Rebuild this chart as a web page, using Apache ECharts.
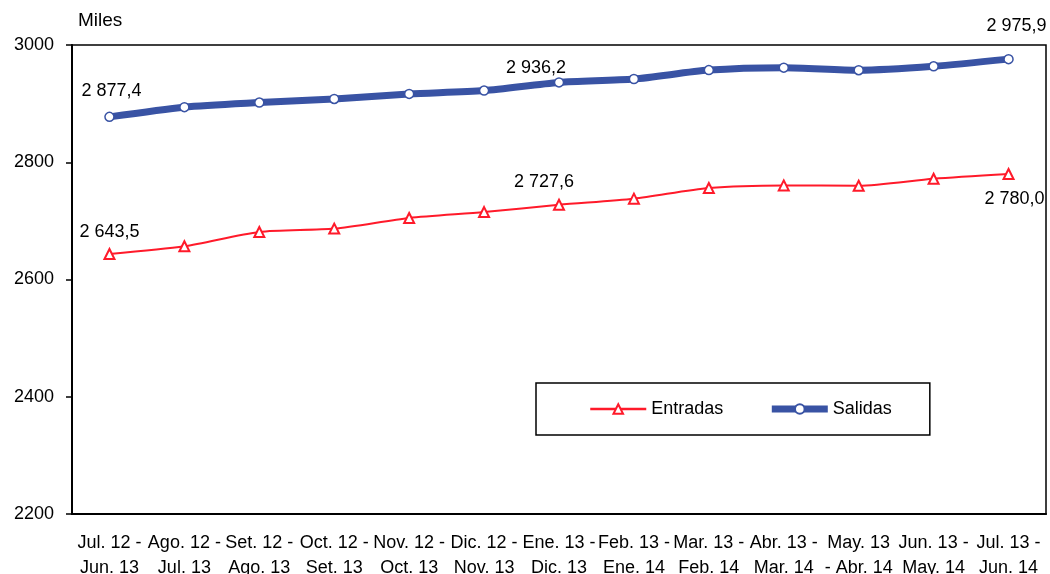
<!DOCTYPE html>
<html>
<head>
<meta charset="utf-8">
<script src="https://cdn.jsdelivr.net/npm/echarts@6/dist/echarts.min.js"></script>
<style>html,body{margin:0;padding:0;background:#fff}#c{width:1050px;height:574px}</style>
</head>
<body>
<div id="c"></div>
<script>
const categories = ["Jul. 12 -\nJun. 13","Ago. 12 -\nJul. 13","Set. 12 -\nAgo. 13","Oct. 12 -\nSet. 13","Nov. 12 -\nOct. 13","Dic. 12 -\nNov. 13","Ene. 13 -\nDic. 13","Feb. 13 -\nEne. 14","Mar. 13 -\nFeb. 14","Abr. 13 -\nMar. 14","May. 13\n- Abr. 14","Jun. 13 -\nMay. 14","Jul. 13 -\nJun. 14"];
const entradas = [2643.5, 2656.6, 2681.0, 2686.8, 2705.0, 2715.0, 2727.6, 2737.9, 2756.0, 2760.5, 2760.0, 2771.9, 2780.0];
const salidas  = [2877.4, 2894.0, 2901.8, 2908.0, 2916.6, 2922.3, 2936.2, 2942.0, 2957.2, 2961.4, 2957.0, 2963.7, 2975.9];
const yTicks = [2200, 2400, 2600, 2800, 3000];

const FONT = '"Liberation Sans", Arial, sans-serif';
function fmt(v){
  const s = v.toFixed(1).split('.');
  return s[0].replace(/\B(?=(\d{3})+(?!\d))/g,' ') + ',' + s[1];
}
const entLabels = {0:{position:'top',offset:[0,-2]},6:{position:'top',offset:[-15,-3]},12:{position:'bottom',offset:[6,5]}};
const salLabels = {0:{position:'top',offset:[2,-7]},6:{position:'top',offset:[-23,5]},12:{position:'top',offset:[8,-14]}};
function build(vals, lbl){
  return vals.map((v,i)=> lbl[i] ? {value:v, label:Object.assign({show:true, formatter:p=>fmt(p.value), color:'#000', fontSize:18, fontFamily:FONT}, lbl[i])} : v);
}
const chart = echarts.init(document.getElementById('c'), null, {renderer:'canvas'});
chart.setOption({
  animation:false,
  backgroundColor:'#fff',
  grid:{left:72,right:4,top:45,bottom:60,outerBoundsMode:'none',containLabel:false,show:true,borderColor:'#000',borderWidth:1.5,backgroundColor:'transparent'},
  title:{text:'Miles',left:78,top:11,padding:0,textStyle:{fontSize:19,fontWeight:'normal',color:'#000',fontFamily:FONT}},
  legend:{
    left:536, top:383, orient:'horizontal',
    padding:[15,38,15,53], itemGap:45, itemWidth:56, itemHeight:12,
    borderColor:'#000', borderWidth:1.5,
    textStyle:{fontSize:18,color:'#000',fontFamily:FONT,lineHeight:22},
    data:[{name:'Entradas', lineStyle:{width:2.5}}, {name:'Salidas', lineStyle:{width:7}}]
  },
  xAxis:{
    type:'category', data:categories, boundaryGap:true,
    axisLine:{lineStyle:{color:'#000',width:2}},
    axisTick:{inside:true,length:6,lineStyle:{color:'#000',width:2}},
    axisLabel:{interval:0,color:'#000',fontSize:18,fontFamily:FONT,margin:17,lineHeight:25}
  },
  yAxis:{
    type:'value', min:yTicks[0], max:yTicks[yTicks.length-1], interval:200,
    axisLine:{show:true,lineStyle:{color:'#000',width:2}},
    axisTick:{show:true,length:6,lineStyle:{color:'#000',width:1.5}},
    splitLine:{show:false},
    axisLabel:{color:'#000',fontSize:18,fontFamily:FONT,margin:18,formatter:v=>String(v)}
  },
  series:[
    {name:'Entradas',type:'line',data:build(entradas,entLabels),smooth:0.25,
     symbol:'triangle',symbolSize:10,showAllSymbol:true,
     lineStyle:{color:'#ff1a2a',width:2},
     itemStyle:{color:'#fff',borderColor:'#ff1a2a',borderWidth:2},
     color:'#ff1a2a'},
    {name:'Salidas',type:'line',data:build(salidas,salLabels),smooth:0.25,
     symbol:'circle',symbolSize:9,showAllSymbol:true,
     lineStyle:{color:'#3953a4',width:7},
     itemStyle:{color:'#fff',borderColor:'#3953a4',borderWidth:1.5},
     color:'#3953a4'}
  ]
});
</script>
</body>
</html>
